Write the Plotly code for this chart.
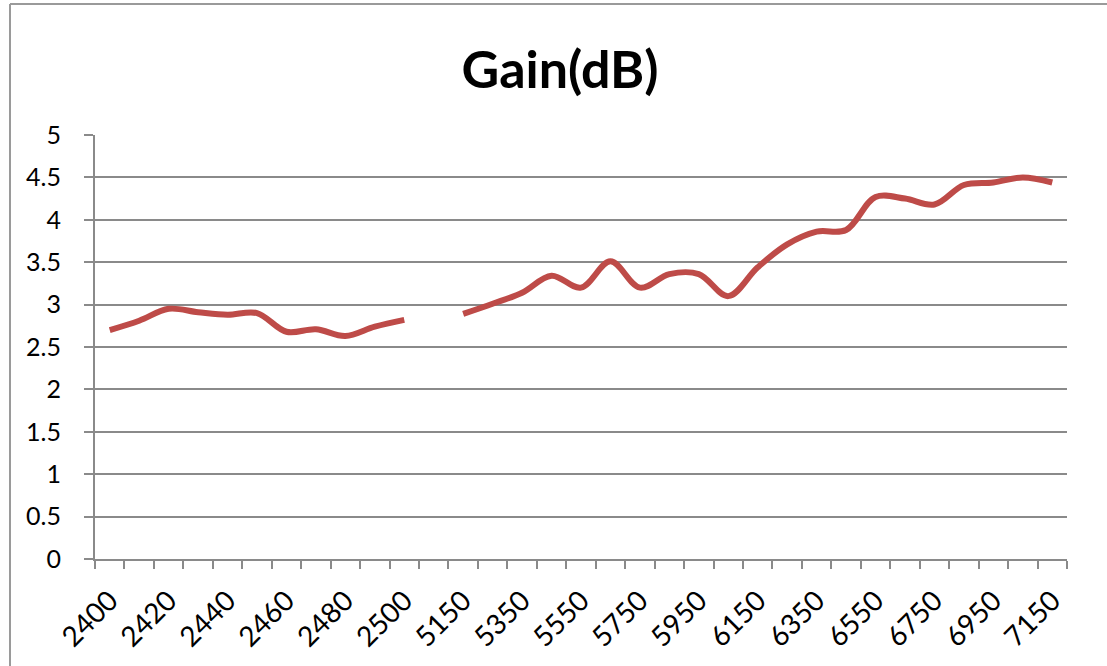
import plotly.graph_objects as go

# Categories (frequency, MHz); " " is the empty gap category between the two bands
categories = ["2400", "2410", "2420", "2430", "2440", "2450", "2460", "2470", "2480", "2490", "2500",
              " ",
              "5150", "5250", "5350", "5450", "5550", "5650", "5750", "5850", "5950", "6050",
              "6150", "6250", "6350", "6450", "6550", "6650", "6750", "6850", "6950", "7050", "7150"]

gain_db = [2.70, 2.81, 2.95, 2.91, 2.88, 2.90, 2.68, 2.71, 2.63, 2.74, 2.82,
           None,
           2.89, 3.01, 3.14, 3.34, 3.20, 3.51, 3.20, 3.36, 3.36, 3.10,
           3.44, 3.71, 3.86, 3.88, 4.27, 4.25, 4.18, 4.41, 4.44, 4.50, 4.44]

tick_labels = [c if i % 2 == 0 else "" for i, c in enumerate(categories)]
y_ticks = [0, 0.5, 1, 1.5, 2, 2.5, 3, 3.5, 4, 4.5, 5]

GRID = "#8a8a8a"
FONT = "Lato"

fig = go.Figure()
fig.add_trace(go.Scatter(
    x=categories, y=gain_db, mode="lines",
    line=dict(color="#BE4B48", width=6, shape="spline", smoothing=1.0),
    connectgaps=False, showlegend=False, hoverinfo="skip",
))

fig.update_layout(
    width=1107, height=666,
    margin=dict(l=95, r=40, t=135, b=107),
    paper_bgcolor="white", plot_bgcolor="white",
    title=dict(text="<b>Gain(dB)</b>", x=560 / 1107, xanchor="center",
               y=1 - 70 / 666, yanchor="middle",
               font=dict(family=FONT, size=52, color="#000000")),
    font=dict(family=FONT, color="#000000"),
)

fig.update_xaxes(
    type="category", categoryorder="array", categoryarray=categories,
    range=[-0.5, len(categories) - 0.5],
    tickmode="array", tickvals=categories, ticktext=tick_labels,
    tickson="boundaries", ticks="outside", ticklen=8, tickwidth=2, tickcolor=GRID,
    tickangle=-45, tickfont=dict(family=FONT, size=28, color="#000000"),
    ticklabelstandoff=12,
    showgrid=False, showline=True, linecolor=GRID, linewidth=2,
    zeroline=False, automargin=False,
)

fig.update_yaxes(
    range=[0, 5], tickmode="array", tickvals=y_ticks,
    ticks="outside", ticklen=9, tickwidth=2, tickcolor=GRID,
    tickfont=dict(family=FONT, size=25, color="#000000"),
    ticklabelstandoff=18,
    showgrid=True, gridcolor=GRID, gridwidth=2,
    showline=True, linecolor=GRID, linewidth=2,
    zeroline=False, automargin=False,
)

# Outer chart-area border (only top and left edges visible in the reference)
bx = (10 - 95) / 972
by = (559 - 4) / 424
fig.add_shape(type="line", xref="paper", yref="paper", x0=bx, x1=1.2, y0=by, y1=by,
              line=dict(color="#9a9a9a", width=2))
fig.add_shape(type="line", xref="paper", yref="paper", x0=bx, x1=bx, y0=by, y1=-0.5,
              line=dict(color="#9a9a9a", width=2))

fig.write_html("out.html", config={"displayModeBar": False},
               post_script="document.body.style.margin='0';document.body.style.overflow='hidden';")
